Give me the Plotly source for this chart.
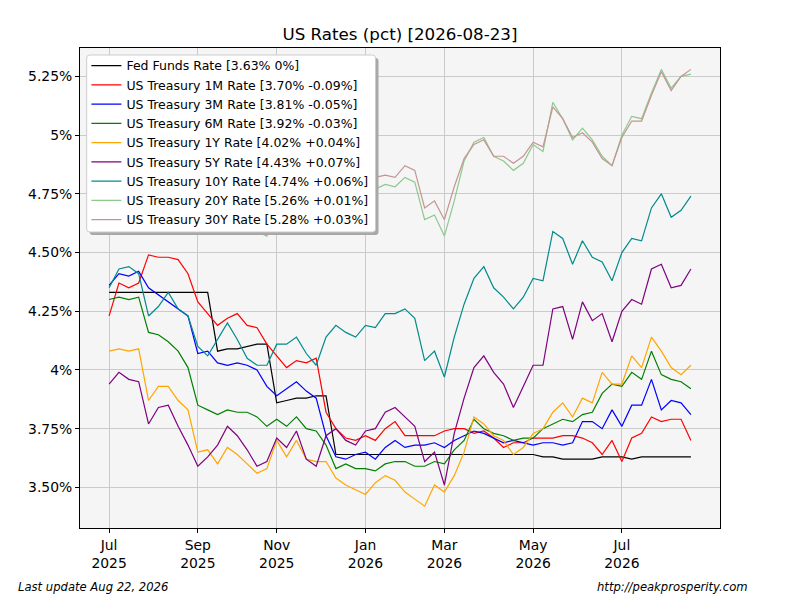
import plotly.graph_objects as go

# ---- data (weekly observations, index 0 = first week of Jul 2025) ----
title_date = "2026-08-23"
last_update = "Last update Aug 22, 2026"
source_text = "http://peakprosperity.com"

tick_index = [0, 9, 17, 26, 34, 43, 52]
tick_labels = ["Jul<br>2025", "Sep<br>2025", "Nov<br>2025", "Jan<br>2026",
               "Mar<br>2026", "May<br>2026", "Jul<br>2026"]

y_tick_vals = [3.50, 3.75, 4.00, 4.25, 4.50, 4.75, 5.00, 5.25]
y_tick_text = ["3.50%", "3.75%", "4%", "4.25%", "4.50%", "4.75%", "5%", "5.25%"]

fed_funds = [4.33, 4.33, 4.33, 4.33, 4.33, 4.33, 4.33, 4.33, 4.33, 4.33,
             4.33, 4.08, 4.09, 4.09, 4.10, 4.11, 4.11, 3.86, 3.87, 3.88,
             3.88, 3.89, 3.89, 3.64, 3.64, 3.64, 3.64, 3.64, 3.64, 3.64,
             3.64, 3.64, 3.64, 3.64, 3.64, 3.64, 3.64, 3.64, 3.64, 3.64,
             3.64, 3.64, 3.64, 3.64, 3.63, 3.63, 3.62, 3.62, 3.62, 3.62,
             3.63, 3.63, 3.63, 3.62, 3.63, 3.63, 3.63, 3.63, 3.63, 3.63]
t1m = [4.23, 4.37, 4.35, 4.37, 4.49, 4.48, 4.48, 4.47, 4.41, 4.29,
       4.24, 4.19, 4.22, 4.24, 4.19, 4.18, 4.11, 4.06, 4.01, 4.04,
       4.03, 4.05, 3.82, 3.75, 3.71, 3.70, 3.72, 3.70, 3.75, 3.78,
       3.72, 3.72, 3.72, 3.72, 3.74, 3.75, 3.75, 3.73, 3.74, 3.71,
       3.67, 3.69, 3.69, 3.71, 3.71, 3.71, 3.72, 3.72, 3.71, 3.69,
       3.64, 3.70, 3.61, 3.71, 3.73, 3.80, 3.78, 3.79, 3.79, 3.70]
t3m = [4.36, 4.41, 4.40, 4.42, 4.35, 4.32, 4.29, 4.26, 4.23, 4.07,
       4.08, 4.03, 4.02, 4.03, 4.02, 4.00, 3.93, 3.89, 3.92, 3.95,
       3.91, 3.88, 3.72, 3.63, 3.62, 3.64, 3.65, 3.62, 3.67, 3.70,
       3.67, 3.68, 3.68, 3.69, 3.67, 3.70, 3.72, 3.74, 3.73, 3.71,
       3.69, 3.70, 3.69, 3.68, 3.69, 3.69, 3.68, 3.69, 3.78, 3.78,
       3.75, 3.83, 3.76, 3.85, 3.85, 3.96, 3.83, 3.87, 3.86, 3.81]
t6m = [4.30, 4.31, 4.30, 4.31, 4.16, 4.15, 4.12, 4.08, 4.01, 3.85,
       3.83, 3.81, 3.83, 3.82, 3.82, 3.80, 3.76, 3.79, 3.76, 3.80,
       3.75, 3.74, 3.68, 3.58, 3.60, 3.58, 3.58, 3.57, 3.60, 3.61,
       3.61, 3.59, 3.59, 3.61, 3.60, 3.66, 3.70, 3.79, 3.75, 3.73,
       3.72, 3.70, 3.71, 3.71, 3.75, 3.77, 3.79, 3.78, 3.81, 3.82,
       3.90, 3.94, 3.93, 3.99, 3.96, 4.08, 3.98, 3.96, 3.95, 3.92]
t1y = [4.08, 4.09, 4.08, 4.09, 3.87, 3.93, 3.93, 3.87, 3.83, 3.65,
       3.66, 3.60, 3.67, 3.64, 3.60, 3.56, 3.58, 3.70, 3.63, 3.70,
       3.62, 3.61, 3.61, 3.54, 3.51, 3.49, 3.47, 3.52, 3.55, 3.53,
       3.48, 3.45, 3.42, 3.51, 3.48, 3.55, 3.65, 3.80, 3.77, 3.72,
       3.70, 3.64, 3.67, 3.73, 3.75, 3.82, 3.86, 3.80, 3.88, 3.86,
       3.99, 3.94, 3.94, 4.06, 4.01, 4.14, 4.08, 4.01, 3.98, 4.02]
t5y = [3.94, 3.99, 3.96, 3.95, 3.77, 3.84, 3.85, 3.76, 3.68, 3.59,
       3.63, 3.68, 3.76, 3.72, 3.66, 3.59, 3.61, 3.71, 3.67, 3.74,
       3.62, 3.59, 3.72, 3.75, 3.70, 3.68, 3.74, 3.75, 3.82, 3.84,
       3.80, 3.76, 3.61, 3.65, 3.51, 3.73, 3.88, 4.01, 4.06, 3.99,
       3.94, 3.84, 3.93, 4.02, 4.02, 4.26, 4.27, 4.13, 4.29, 4.21,
       4.24, 4.12, 4.25, 4.30, 4.28, 4.43, 4.45, 4.35, 4.36, 4.43]
t10y = [4.35, 4.43, 4.44, 4.41, 4.23, 4.27, 4.33, 4.26, 4.23, 4.10,
        4.06, 4.13, 4.20, 4.13, 4.05, 4.02, 4.02, 4.11, 4.11, 4.14,
        4.07, 4.02, 4.14, 4.19, 4.16, 4.14, 4.19, 4.18, 4.24, 4.24,
        4.26, 4.22, 4.04, 4.08, 3.97, 4.14, 4.28, 4.39, 4.44, 4.35,
        4.31, 4.26, 4.31, 4.39, 4.38, 4.59, 4.56, 4.45, 4.55, 4.48,
        4.46, 4.38, 4.50, 4.56, 4.55, 4.69, 4.75, 4.65, 4.68, 4.74]
t20y = [4.92, 4.96, 4.97, 4.94, 4.83, 4.86, 4.90, 4.86, 4.83, 4.71,
        4.68, 4.73, 4.76, 4.71, 4.64, 4.59, 4.57, 4.67, 4.66, 4.68,
        4.63, 4.62, 4.70, 4.74, 4.72, 4.71, 4.76, 4.77, 4.79, 4.78,
        4.82, 4.80, 4.64, 4.66, 4.57, 4.72, 4.89, 4.97, 4.99, 4.91,
        4.89, 4.85, 4.88, 4.96, 4.93, 5.14, 5.07, 4.98, 5.03, 4.98,
        4.91, 4.87, 5.00, 5.08, 5.07, 5.18, 5.28, 5.20, 5.25, 5.26]
t30y = [4.93, 4.97, 4.98, 4.96, 4.86, 4.89, 4.93, 4.89, 4.87, 4.75,
        4.72, 4.77, 4.80, 4.76, 4.70, 4.66, 4.64, 4.73, 4.72, 4.74,
        4.69, 4.67, 4.76, 4.80, 4.78, 4.77, 4.82, 4.82, 4.83, 4.82,
        4.87, 4.85, 4.69, 4.72, 4.64, 4.78, 4.90, 4.96, 4.98, 4.91,
        4.91, 4.88, 4.91, 4.97, 4.95, 5.12, 5.07, 4.99, 5.01, 4.97,
        4.90, 4.87, 4.99, 5.06, 5.06, 5.17, 5.27, 5.19, 5.25, 5.28]

series_names = ["Fed Funds Rate", "US Treasury 1M Rate", "US Treasury 3M Rate",
                "US Treasury 6M Rate", "US Treasury 1Y Rate", "US Treasury 5Y Rate",
                "US Treasury 10Y Rate", "US Treasury 20Y Rate", "US Treasury 30Y Rate"]
series_values = [fed_funds, t1m, t3m, t6m, t1y, t5y, t10y, t20y, t30y]
series_colors = ["#000000", "#ff0000", "#0000ff", "#008000", "#ffa500",
                 "#800080", "#008b8b", "#8cc98c", "#c49494"]

FONT = "DejaVu Sans"


def label(name, vals):
    last = vals[-1]
    chg = round(vals[-1] - vals[-2], 2)
    chg_txt = "0%" if chg == 0 else f"{chg:+.2f}%"
    return f"{name} [{last:.2f}% {chg_txt}]"


fig = go.Figure()
weeks = list(range(len(fed_funds)))
for i, (nm, vals, col) in enumerate(zip(series_names, series_values, series_colors)):
    fig.add_trace(go.Scatter(
        x=weeks, y=vals, mode="lines", name=label(nm, vals),
        line=dict(color=col, width=1.2)))

# plot area in pixels: x 80..720, y 48..528
PX0, PX1, PY0, PY1 = 80, 720, 48, 528


def px(x):
    return (x - PX0) / (PX1 - PX0)


def py(y):
    return (PY1 - y) / (PY1 - PY0)


def rounded_rect(x0, y0, x1, y1, r):
    rx, ry = r / (PX1 - PX0), r / (PY1 - PY0)
    X0, X1, Yt, Yb = px(x0), px(x1), py(y0), py(y1)
    return (f"M {X0 + rx},{Yt} L {X1 - rx},{Yt} Q {X1},{Yt} {X1},{Yt - ry} "
            f"L {X1},{Yb + ry} Q {X1},{Yb} {X1 - rx},{Yb} L {X0 + rx},{Yb} "
            f"Q {X0},{Yb} {X0},{Yb + ry} L {X0},{Yt - ry} Q {X0},{Yt} {X0 + rx},{Yt} Z")


# legend frame (box drawn as shapes; legend itself is transparent on top)
BOX = (86.7, 55, 375.5, 232)
SH = 3

fig.update_layout(
    width=800, height=600,
    margin=dict(l=80, r=80, t=48, b=72),
    paper_bgcolor="white", plot_bgcolor="#f5f5f5",
    font=dict(family=FONT, size=13.9, color="black"),
    title=dict(text=f"US Rates (pct) [{title_date}]", x=0.5, xanchor="center",
               y=1 - 34 / 600, yanchor="middle", yref="container",
               font=dict(family=FONT, size=16.7, color="black")),
    showlegend=True,
    legend=dict(x=px(85.4), y=py(49.9), xanchor="left", yanchor="top",
                bgcolor="rgba(0,0,0,0)", bordercolor="rgba(0,0,0,0)", borderwidth=1,
                font=dict(family=FONT, size=12.5, color="black")),
    xaxis=dict(range=[-2.95, 61.95], tickmode="array", tickvals=tick_index,
               ticktext=tick_labels, showgrid=True, gridcolor="#cbcbcb", gridwidth=1,
               zeroline=False, showline=True, linecolor="black", linewidth=1,
               mirror=True, ticks="outside", ticklen=4, tickcolor="black",
               tickfont=dict(family=FONT, size=13.9, color="black")),
    yaxis=dict(range=[3.327, 5.371], tickmode="array", tickvals=y_tick_vals,
               ticktext=y_tick_text, showgrid=True, gridcolor="#cbcbcb", gridwidth=1,
               zeroline=False, showline=True, linecolor="black", linewidth=1,
               mirror=True, ticks="outside", ticklen=4, tickcolor="black",
               tickfont=dict(family=FONT, size=13.9, color="black")),
    annotations=[
        dict(text=f"<i>{last_update}</i>", xref="paper", yref="paper",
             x=px(16), y=py(587), xanchor="left", yanchor="middle",
             showarrow=False, font=dict(family=FONT, size=11.6, color="black")),
        dict(text=f"<i>{source_text}</i>", xref="paper", yref="paper",
             x=px(750), y=py(587), xanchor="right", yanchor="middle",
             showarrow=False, font=dict(family=FONT, size=11.6, color="black")),
    ],
)

fig.add_shape(type="path", xref="paper", yref="paper",
              path=rounded_rect(BOX[0] + SH, BOX[1] + SH, BOX[2] + SH, BOX[3] + SH, 3),
              fillcolor="#a8a8a8", line=dict(width=0), layer="above")
fig.add_shape(type="path", xref="paper", yref="paper",
              path=rounded_rect(*BOX, 3),
              fillcolor="white", line=dict(color="#cccccc", width=1), layer="above")

fig.write_html("out.html", post_script="document.body.style.margin='0';",
               config={"displayModeBar": False})
